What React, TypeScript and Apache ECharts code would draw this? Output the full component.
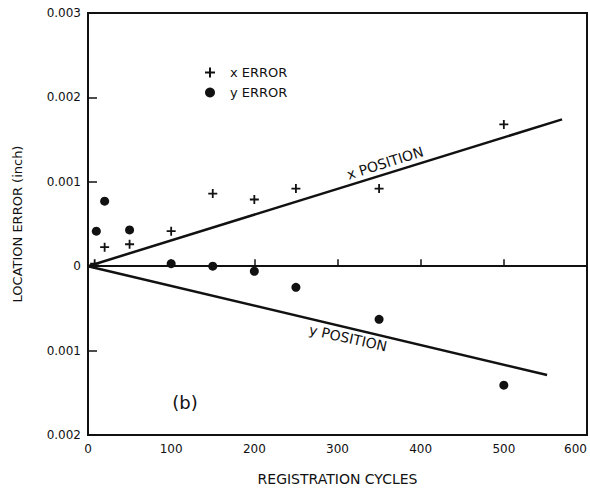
import React, { useEffect, useRef } from "react";
import * as echarts from "echarts";

const xErrorCycles = [8, 20, 50, 100, 150, 200, 250, 350, 500];
const xErrorValues = [0.00003, 0.000225, 0.00026, 0.000415, 0.00086, 0.00079, 0.00092, 0.00092, 0.00168];
const yErrorCycles = [10, 20, 50, 100, 150, 200, 250, 350, 500];
const yErrorValues = [0.000415, 0.00077, 0.00043, 0.00003, 0, -0.00006, -0.00025, -0.00063, -0.00141];
const xPositionLine = [[0, 0], [570, 0.00174]];
const yPositionLine = [[0, 0], [552, -0.00129]];
const zeroLine = [[0, 0], [583, 0]];
const yTicks = [-0.002, -0.001, 0, 0.001, 0.002, 0.003];

const FONT = "DejaVu Sans";
const INK = "#111";
const PLUS = "path://M4,0h2v4h4v2h-4v4h-2v-4h-4v-2h4z";

export default function App() {
  const ref = useRef<HTMLDivElement>(null);
  useEffect(() => {
    if (!ref.current) return;
    const chart = echarts.init(ref.current, undefined, { renderer: "svg" });
    const zip = (xs: number[], ys: number[]) => xs.map((x, i) => [x, ys[i]]);
    chart.setOption({
      animation: false,
      backgroundColor: "#fff",
      grid: {
        left: 88,
        right: 3,
        top: 13,
        bottom: 61,
        outerBoundsMode: "none",
        containLabel: false,
        show: true,
        borderColor: INK,
        borderWidth: 2,
        backgroundColor: "transparent",
      },
      legend: {
        orient: "vertical",
        left: 200,
        top: 61,
        itemGap: 7,
        itemWidth: 10,
        itemHeight: 10,
        textStyle: { fontFamily: FONT, fontSize: 13, color: INK, padding: [0, 0, 0, 10] },
        data: [
          { name: "x ERROR", icon: PLUS },
          { name: "y ERROR", icon: "circle" },
        ],
      },
      xAxis: {
        type: "value",
        min: 0,
        max: 600,
        interval: 100,
        name: "REGISTRATION CYCLES",
        nameLocation: "middle",
        nameGap: 37,
        nameTextStyle: { fontFamily: FONT, fontSize: 14, color: INK },
        axisLine: { show: true, lineStyle: { color: INK, width: 2 } },
        axisTick: { show: true, inside: true, length: 7, lineStyle: { color: INK, width: 1.5 } },
        axisLabel: { fontFamily: FONT, fontSize: 12, color: INK, margin: 8, alignMaxLabel: "right" },
        splitLine: { show: false },
      },
      yAxis: {
        type: "value",
        min: -0.002,
        max: 0.003,
        interval: 0.001,
        name: "LOCATION ERROR (inch)",
        nameLocation: "middle",
        nameGap: 64,
        nameTextStyle: { fontFamily: FONT, fontSize: 13, color: INK },
        axisLine: { show: true, lineStyle: { color: INK, width: 2 } },
        axisTick: { show: true, inside: true, length: 9, lineStyle: { color: INK, width: 1.5 } },
        axisLabel: {
          fontFamily: FONT,
          fontSize: 12,
          color: INK,
          margin: 7,
          formatter: (v: number) => {
            const t = yTicks.find((k) => Math.abs(k - v) < 1e-9);
            const val = t === undefined ? v : t;
            return Math.abs(val) < 1e-9 ? "0" : Math.abs(val).toFixed(3);
          },
        },
        splitLine: { show: false },
      },
      series: [
        {
          name: "zero",
          type: "line",
          data: zeroLine,
          showSymbol: false,
          lineStyle: { color: INK, width: 1.6 },
          silent: true,
        },
        {
          name: "x POSITION",
          type: "line",
          data: xPositionLine,
          showSymbol: false,
          lineStyle: { color: INK, width: 2.5 },
          silent: true,
        },
        {
          name: "y POSITION",
          type: "line",
          data: yPositionLine,
          showSymbol: false,
          lineStyle: { color: INK, width: 2.5 },
          silent: true,
        },
        {
          name: "x ERROR",
          type: "scatter",
          data: zip(xErrorCycles, xErrorValues),
          symbol: PLUS,
          symbolSize: 9,
          itemStyle: { color: INK, opacity: 1 },
        },
        {
          name: "y ERROR",
          type: "scatter",
          data: zip(yErrorCycles, yErrorValues),
          symbol: "circle",
          symbolSize: 9,
          itemStyle: { color: INK, opacity: 1 },
        },
      ],
      graphic: [
        {
          type: "text",
          x: 385,
          y: 163,
          rotation: (17.5 * Math.PI) / 180,
          style: {
            text: "x POSITION",
            fontFamily: FONT,
            fontSize: 14,
            fill: INK,
            align: "center",
            verticalAlign: "middle",
          },
        },
        {
          type: "text",
          x: 348,
          y: 338,
          rotation: (-12.5 * Math.PI) / 180,
          style: {
            text: "y POSITION",
            fontFamily: FONT,
            fontSize: 14,
            fill: INK,
            align: "center",
            verticalAlign: "middle",
          },
        },
        {
          type: "text",
          x: 185,
          y: 402,
          style: {
            text: "(b)",
            fontFamily: FONT,
            fontSize: 18,
            fill: INK,
            align: "center",
            verticalAlign: "middle",
          },
        },
      ],
    });
    return () => chart.dispose();
  }, []);
  return (
    <div
      ref={ref}
      style={{ position: "fixed", left: 0, top: 0, width: 590, height: 496 }}
    />
  );
}
